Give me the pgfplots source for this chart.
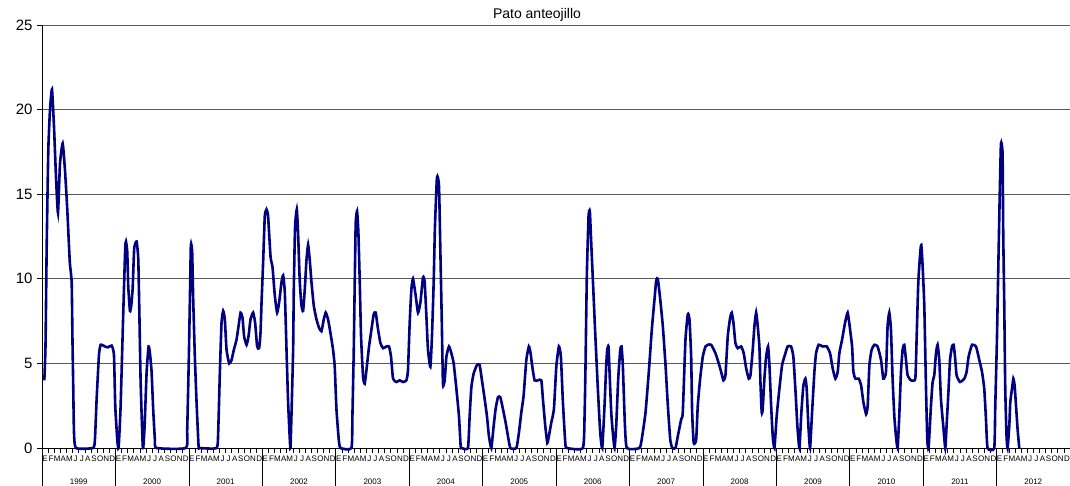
\documentclass[border=0pt]{standalone}
\usepackage{pgfplots}
\pgfplotsset{compat=1.18}
\usepackage{fontspec}
\setmainfont{Liberation Sans}
\definecolor{navy}{RGB}{0,0,128}
\definecolor{gridgray}{RGB}{90,90,90}

% Pato anteojillo: counts per survey, x in months since January 1999
\pgfplotstableread{
m v
0.38 4.0
0.57 6.0
0.77 12.0
1.03 17.6
1.31 20.0
1.63 21.2
1.96 19.0
2.29 16.0
2.61 13.9
2.94 16.8
3.38 18.0
3.76 16.4
4.13 14.1
4.54 11.0
4.85 9.8
4.98 6.4
5.11 3.5
5.23 0.9
5.55 0
8.33 0
8.65 0.5
8.93 2.9
9.31 5.5
9.59 6.1
10.29 6.0
10.78 5.95
11.38 6.05
11.76 5.5
11.97 2.5
12.30 0.5
12.52 0
12.85 2.5
13.28 8.0
13.60 11.8
13.72 12.2
13.93 11.6
14.09 9.6
14.37 8.1
14.58 8.4
14.81 9.4
15.07 11.8
15.46 12.2
15.73 11.2
15.89 8.4
16.12 3.9
16.44 0.3
16.54 0
16.77 1.3
17.10 4.5
17.42 6.0
17.64 5.6
17.91 4.5
18.17 2.3
18.45 0.5
18.73 0
23.51 0
23.73 1.1
24.00 5.4
24.17 8.8
24.33 12.0
24.54 11.6
24.71 8.8
24.98 5.4
25.26 2.7
25.59 0.1
25.80 0
28.53 0
28.79 0.9
29.07 4.5
29.34 7.4
29.61 8.1
29.88 7.6
30.16 5.8
30.59 5.0
30.98 5.2
31.35 5.8
31.79 6.4
32.12 7.2
32.45 8.0
32.77 7.7
33.03 6.6
33.43 6.1
33.75 6.6
34.08 7.6
34.50 8.0
34.83 7.4
35.16 6.0
35.48 5.9
35.71 6.8
35.88 8.6
36.14 11.0
36.41 13.7
36.69 14.1
36.95 13.7
37.35 11.3
37.67 10.7
38.05 9.0
38.42 8.0
38.75 8.6
39.14 9.8
39.41 10.2
39.68 9.2
39.96 5.8
40.22 2.7
40.50 0.5
40.61 0
40.78 2.1
41.04 5.8
41.15 9.4
41.36 13.1
41.64 14.1
41.85 12.7
42.13 9.8
42.41 8.4
42.67 8.1
42.95 9.4
43.22 11.1
43.49 12.0
43.76 11.1
44.04 9.8
44.42 8.4
44.86 7.6
45.28 7.1
45.67 6.9
46.05 7.6
46.37 8.0
46.75 7.6
47.14 6.8
47.57 5.8
47.84 4.8
48.12 2.3
48.50 0.5
48.78 0
50.57 0
50.73 1.9
50.95 5.8
51.11 9.8
51.27 13.3
51.49 14.0
51.71 12.7
51.93 9.8
52.14 6.6
52.47 4.2
52.74 3.8
53.02 4.6
53.45 6.0
53.84 7.0
54.21 7.9
54.54 8.0
54.92 7.0
55.31 6.2
55.73 5.9
56.29 6.0
56.71 6.0
57.04 5.4
57.37 4.1
57.92 3.9
58.46 4.0
59.00 3.9
59.55 4.0
59.81 4.6
60.09 7.4
60.37 9.4
60.63 10.0
61.07 9.0
61.45 8.0
61.84 8.6
62.27 10.1
62.54 9.8
62.82 7.8
63.08 5.8
63.47 4.8
63.73 6.6
64.01 9.8
64.22 13.1
64.55 16.0
64.88 15.5
65.10 11.7
65.32 7.8
65.53 3.8
65.81 4.0
66.09 5.4
66.51 6.0
66.90 5.6
67.28 5.0
67.72 3.5
68.14 1.9
68.42 0.1
68.58 0
69.61 0
69.89 1.9
70.17 3.6
70.54 4.4
71.08 4.9
71.52 4.9
71.90 4.0
72.34 2.9
72.71 1.9
73.04 0.7
73.43 0
73.81 1.3
74.13 2.3
74.51 3.0
74.90 3.0
75.33 2.3
75.77 1.5
76.15 0.7
76.54 0
77.52 0
77.94 0.9
78.33 2.1
78.71 3.1
79.15 5.2
79.57 6.0
79.85 5.6
80.13 4.8
80.50 4.0
81.04 4.0
81.60 4.0
81.86 2.9
82.25 1.3
82.58 0.3
82.84 0.7
83.23 1.5
83.66 2.3
84.05 4.8
84.47 6.0
84.80 5.4
85.13 2.7
85.52 0.3
85.78 0
88.39 0
88.67 1.9
88.83 5.0
89.04 10.2
89.32 13.7
89.53 14.0
89.76 12.1
90.02 10.0
90.41 6.8
90.84 3.5
91.23 0.9
91.56 0
91.93 2.5
92.21 4.9
92.37 5.8
92.59 6.0
92.75 4.5
93.03 2.1
93.29 0.9
93.57 0
93.84 1.3
94.17 4.1
94.50 5.8
94.71 6.0
94.92 4.9
95.25 1.5
95.58 0
97.65 0
98.09 0.7
98.63 2.1
99.17 4.5
99.66 7.0
100.10 8.8
100.38 9.9
100.64 10.0
101.03 8.8
101.46 7.2
101.90 4.9
102.28 2.5
102.67 0.5
103.00 0
103.53 0
103.91 0.7
104.46 1.7
104.72 2.1
105.16 6.4
105.54 7.9
105.81 7.6
106.09 5.4
106.25 2.1
106.51 0.3
106.91 0.5
107.17 2.5
107.56 4.1
107.99 5.4
108.43 6.0
108.80 6.1
109.36 6.1
110.06 5.6
110.60 5.0
110.99 4.5
111.36 4.0
111.69 4.3
112.07 6.6
112.46 7.7
112.72 8.0
113.00 7.4
113.32 6.2
113.70 5.9
114.26 6.0
114.68 5.6
115.08 4.7
115.50 4.1
115.78 4.3
116.15 5.8
116.43 7.2
116.71 8.0
116.97 7.2
117.24 6.0
117.41 3.9
117.62 2.1
117.78 2.3
118.06 4.1
118.34 5.4
118.66 6.0
118.88 4.9
119.16 2.5
119.42 0.7
119.70 0
120.07 1.9
120.51 3.5
120.95 4.9
121.49 5.6
121.86 6.0
122.42 6.0
122.79 5.4
123.12 3.5
123.45 1.3
123.78 0
124.10 2.1
124.43 3.7
124.76 4.1
124.97 3.5
125.25 1.3
125.52 0
125.85 2.1
126.23 4.5
126.50 5.6
126.93 6.1
127.58 6.0
128.24 6.0
128.79 5.6
129.22 4.7
129.66 4.1
130.04 4.5
130.31 5.6
130.75 6.4
131.24 7.4
131.67 8.0
132.06 7.0
132.39 6.0
132.60 4.5
132.93 4.1
133.47 4.1
133.86 3.7
134.24 2.7
134.68 2.0
134.94 2.5
135.22 4.9
135.58 5.8
136.03 6.1
136.56 6.0
137.12 5.2
137.49 4.1
137.93 4.5
138.19 7.2
138.47 8.0
138.74 7.0
139.01 4.1
139.29 1.9
139.56 0.7
139.83 0
140.10 1.9
140.38 4.5
140.64 5.8
140.92 6.1
141.20 5.2
141.46 4.3
142.01 4.0
142.72 4.1
142.93 6.4
143.21 9.8
143.54 11.6
143.70 12.0
143.91 10.8
144.19 8.4
144.47 3.5
144.68 0.5
144.89 0
145.28 2.5
145.55 3.9
145.82 4.3
146.10 5.6
146.36 6.1
146.64 5.2
146.91 2.9
147.29 1.3
147.62 0
147.83 1.3
148.16 3.5
148.39 5.2
148.72 6.0
148.98 6.1
149.21 5.4
149.47 4.3
150.02 3.9
150.73 4.1
151.10 4.5
151.43 5.4
151.99 6.1
152.64 6.0
153.18 5.2
153.62 4.5
153.99 3.5
154.27 1.7
154.53 0
155.62 0
155.79 2.5
156.06 6.4
156.27 10.4
156.52 15.0
156.72 18.0
156.98 17.4
157.09 12.7
157.26 8.4
157.42 3.5
157.63 0.7
157.80 0
158.08 1.3
158.24 2.7
158.52 3.5
158.74 4.1
158.95 3.7
159.18 2.5
159.44 1.1
159.71 0
}\patodata

\begin{document}
\begin{tikzpicture}
\useasboundingbox (-42pt,-38pt) rectangle (1028pt,448pt);
\begin{axis}[
  scale only axis,
  width=1028pt, height=423pt,
  at={(0pt,0pt)}, anchor=south west,
  xmin=0, xmax=168, ymin=0, ymax=25,
  axis x line=bottom, axis y line=left,
  axis line style={-, black, line width=0.8pt},
  clip=false,
  title={Pato anteojillo},
  title style={at={(axis description cs:0.4815,1)}, anchor=base, yshift=0pt,
    font=\fontsize{14}{14}\selectfont},
  ytick={0,5,...,25},
  ymajorgrids,
  grid style={gridgray, line width=0.8pt},
  tick align=outside,
  major tick length=5pt,
  tick style={black, line width=0.6pt},
  yticklabel style={font=\fontsize{15}{15}\selectfont, xshift=-1pt},
  /pgf/number format/assume math mode=true,
  xtick={0,1,...,168},
  x tick label as interval,
  xticklabels={E,F,M,A,M,J,J,A,S,O,N,D,E,F,M,A,M,J,J,A,S,O,N,D,
    E,F,M,A,M,J,J,A,S,O,N,D,E,F,M,A,M,J,J,A,S,O,N,D,
    E,F,M,A,M,J,J,A,S,O,N,D,E,F,M,A,M,J,J,A,S,O,N,D,
    E,F,M,A,M,J,J,A,S,O,N,D,E,F,M,A,M,J,J,A,S,O,N,D,
    E,F,M,A,M,J,J,A,S,O,N,D,E,F,M,A,M,J,J,A,S,O,N,D,
    E,F,M,A,M,J,J,A,S,O,N,D,E,F,M,A,M,J,J,A,S,O,N,D,
    E,F,M,A,M,J,J,A,S,O,N,D,E,F,M,A,M,J,J,A,S,O,N,D},
  xticklabel style={font=\fontsize{8}{8}\selectfont, inner sep=0.5pt, yshift=-2pt},
  extra x ticks={0,12,...,168},
  extra x tick labels={1999,2000,2001,2002,2003,2004,2005,2006,2007,2008,2009,2010,2011,2012},
  extra x tick style={major tick length=38pt, tick style={black, line width=0.6pt},
    xticklabel style={font=\fontsize{8}{8}\selectfont, yshift=10pt}},
]
\addplot[navy, line width=2.6pt, smooth, tension=0.3] table[x=m, y=v] {\patodata};
\end{axis}
\end{tikzpicture}
\end{document}
